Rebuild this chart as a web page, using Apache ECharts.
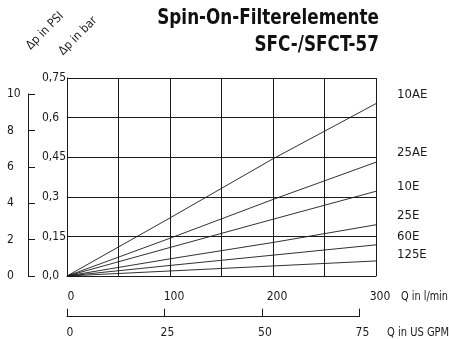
<!DOCTYPE html>
<html><head><meta charset="utf-8">
<script src="https://cdn.jsdelivr.net/npm/echarts@6/dist/echarts.min.js"></script>
<style>html,body{margin:0;padding:0;background:#fff}#c{width:449px;height:339px}</style>
</head><body><div id="c"></div>
<script>
// ---- data ----
const flowLmin = [0, 100, 200, 300];
const s10AE = [0, 0.220, 0.444, 0.653];
const s25AE = [0, 0.143, 0.290, 0.431];
const s10E  = [0, 0.108, 0.215, 0.321];
const s25E  = [0, 0.065, 0.127, 0.194];
const s60E  = [0, 0.040, 0.079, 0.118];
const s125E = [0, 0.019, 0.038, 0.057];
const seriesNames = ['10AE', '25AE', '10E', '25E', '60E', '125E'];
const seriesValues = [s10AE, s25AE, s10E, s25E, s60E, s125E];
const barTickLabels = ['0,0', '0,15', '0,3', '0,45', '0,6', '0,75'];
const lminTickLabels = ['0', '100', '200', '300'];
const gpmTickLabels = ['0', '25', '50', '75'];
const psiTickLabels = ['0', '2', '4', '6', '8', '10'];

// ---- styling ----
const FF = '"Liberation Sans Narrow", "DejaVu Sans Condensed", "Arial Narrow", sans-serif';
const INK = '#1a1a1a';
const labelDy = [-9, -10, -5, -9, -8, -6];

const chart = echarts.init(document.getElementById('c'), null, {renderer: 'canvas'});

const series = seriesNames.map((n, i) => ({
  name: n, type: 'line', xAxisIndex: 0, yAxisIndex: 0,
  data: flowLmin.map((x, k) => [x, seriesValues[i][k]]),
  symbol: 'none', silent: true,
  lineStyle: {color: INK, width: 0.9},
  endLabel: {show: true, formatter: n, distance: 21, offset: [0, labelDy[i]],
    color: INK, fontSize: 13, fontFamily: FF}
}));

chart.setOption({
  animation: false,
  backgroundColor: '#fff',
  grid: [
    {left: 67, top: 78, width: 309, height: 198},
    {left: 28, top: 94, width: 10, height: 182},
    {left: 67, top: 300, width: 292.4, height: 16.7}
  ],
  xAxis: [
    {gridIndex: 0, type: 'value', min: 0, max: 300, interval: 50,
     axisLine: {show: true, lineStyle: {color: INK, width: 1}},
     axisTick: {show: false},
     splitLine: {show: true, lineStyle: {color: INK, width: 1}},
     axisLabel: {margin: 15, color: INK, fontSize: 12, fontFamily: FF, padding: [0, 0, 0, 8],
       formatter: v => (v % 100 === 0 ? lminTickLabels[v / 100] : '')}},
    {gridIndex: 1, type: 'value', show: false},
    {gridIndex: 2, type: 'value', min: 0, max: 75, interval: 25,
     axisLine: {show: true, lineStyle: {color: INK, width: 1}},
     axisTick: {show: true, inside: true, length: 8, lineStyle: {color: INK, width: 1}},
     splitLine: {show: false},
     axisLabel: {margin: 10, color: INK, fontSize: 12, fontFamily: FF, padding: [0, 0, 0, 6],
       formatter: v => gpmTickLabels[v / 25]}}
  ],
  yAxis: [
    {gridIndex: 0, type: 'value', min: 0, max: 0.75, interval: 0.15,
     axisLine: {show: true, lineStyle: {color: INK, width: 1}},
     axisTick: {show: false},
     splitLine: {show: true, lineStyle: {color: INK, width: 1}},
     axisLabel: {margin: 25, align: 'left', color: INK, fontSize: 12, fontFamily: FF,
       formatter: v => barTickLabels[Math.round(v / 0.15)]}},
    {gridIndex: 1, type: 'value', min: 0, max: 10, interval: 2,
     axisLine: {show: true, lineStyle: {color: INK, width: 1}},
     axisTick: {show: true, inside: true, length: 7, lineStyle: {color: INK, width: 1}},
     splitLine: {show: false},
     axisLabel: {margin: 21, align: 'left', color: INK, fontSize: 12, fontFamily: FF,
       padding: [6, 0, 0, 0],
       formatter: v => psiTickLabels[v / 2]}},
    {gridIndex: 2, type: 'value', show: false}
  ],
  series: series,
  graphic: [
    {type: 'text', x: 379, y: 19, scaleX: 0.89, style: {text: 'Spin-On-Filterelemente', fill: '#111',
      font: 'bold 21px ' + FF, align: 'right', verticalAlign: 'middle'}},
    {type: 'text', x: 379, y: 46, scaleX: 0.89, style: {text: 'SFC-/SFCT-57', fill: '#111',
      font: 'bold 21px ' + FF, align: 'right', verticalAlign: 'middle'}},
    {type: 'text', x: 45, y: 31, rotation: Math.PI / 4, style: {text: 'Δp in PSI', fill: INK,
      font: '12px ' + FF, align: 'center', verticalAlign: 'middle'}},
    {type: 'text', x: 78, y: 36, rotation: Math.PI / 4, style: {text: 'Δp in bar', fill: INK,
      font: '12px ' + FF, align: 'center', verticalAlign: 'middle'}},
    {type: 'text', x: 401, y: 297, scaleX: 0.9, style: {text: 'Q in l/min', fill: INK,
      font: '12px ' + FF, align: 'left', verticalAlign: 'middle'}},
    {type: 'text', x: 387, y: 333, scaleX: 0.92, style: {text: 'Q in US GPM', fill: INK,
      font: '12px ' + FF, align: 'left', verticalAlign: 'middle'}}
  ]
});
</script></body></html>
